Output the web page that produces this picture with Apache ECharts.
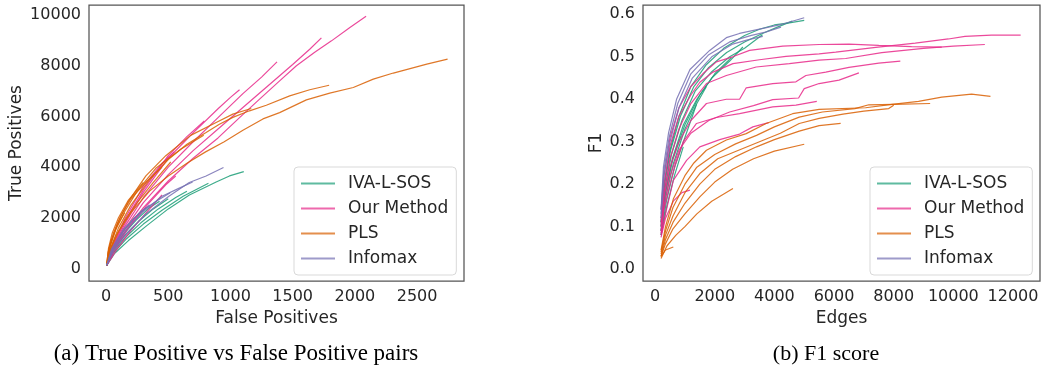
<!DOCTYPE html>
<html>
<head>
<meta charset="utf-8">
<script src="https://cdn.jsdelivr.net/npm/echarts@6/dist/echarts.min.js"></script>
<style>
html, body { margin: 0; padding: 0; background: #fff; }
#chart { width: 1045px; height: 375px; }
</style>
</head>
<body>
<div id="chart"></div>
<script>
// method names and colours (Dark2)
var methods = ['IVA-L-SOS', 'Our Method', 'PLS', 'Infomax'];
var colors = ['#1b9e77', '#e7298a', '#d95f02', '#7570b3'];

// tick labels
var tpTicksX = [0, 500, 1000, 1500, 2000, 2500];
var tpTicksY = [0, 2000, 4000, 6000, 8000, 10000];
var f1TicksX = [0, 2000, 4000, 6000, 8000, 10000, 12000];
var f1TicksY = [0, 0.1, 0.2, 0.3, 0.4, 0.5, 0.6];

// (a) true positives vs false positives, one list of runs per method: [fp, tp]
var ivaTP = [
    [[5,120],[70,600],[180,1100],[330,1700],[500,2350],[670,2900],[885,3410],[992,3650],[1107,3820]],
    [[5,120],[60,620],[160,1150],[300,1750],[450,2300],[620,2850],[823,3360]],
    [[5,120],[55,640],[150,1200],[280,1800],[420,2350],[560,2800],[650,3050]],
    [[5,120],[50,660],[140,1250],[260,1850],[380,2350],[500,2750]],
    [[5,120],[45,680],[130,1300],[240,1900],[350,2400],[430,2650]],
    [[5,120],[40,700],[120,1350],[220,1950],[320,2400]]
];
var ourTP = [
    [[5,120],[60,700],[150,1450],[300,2400],[500,3450],[700,4350],[900,5150],[1073,5950],[1234,6680],[1395,7400],[1530,8000],[1677,8530],[1812,8980],[1960,9510],[2090,9950]],
    [[5,120],[60,750],[150,1550],[300,2600],[500,3700],[700,4650],[900,5500],[1100,6350],[1300,7200],[1500,8050],[1637,8650],[1731,9100]],
    [[5,120],[60,800],[150,1650],[300,2800],[500,4000],[700,5000],[900,5950],[1100,6900],[1250,7550],[1374,8150]],
    [[5,120],[60,850],[150,1750],[300,3000],[500,4350],[700,5350],[900,6300],[1000,6750],[1073,7050]],
    [[5,120],[50,800],[150,1850],[300,3100],[500,4450],[650,5200],[790,5820]],
    [[5,120],[50,850],[150,1950],[300,3250],[450,4150],[548,4600]],
    [[5,120],[70,750],[180,1600],[330,2500],[480,3300],[560,3650]],
    [[5,120],[80,700],[200,1500],[350,2350],[450,2900]]
];
var plsTP = [
    [[5,120],[40,800],[100,1450],[200,2200],[350,3050],[500,3650],[650,4150],[800,4600],[950,5000],[1100,5450],[1261,5900],[1395,6150],[1610,6650],[1798,6920],[1987,7140],[2148,7470],[2309,7710],[2578,8060],[2745,8260]],
    [[5,120],[40,850],[100,1600],[200,2500],[350,3500],[500,4300],[650,4900],[804,5360],[911,5690],[1019,5960],[1153,6220],[1288,6440],[1476,6810],[1637,7050],[1793,7230]],
    [[5,120],[35,900],[90,1750],[180,2650],[320,3650],[480,4450],[680,5250],[885,5760],[1019,6090],[1167,6310]],
    [[5,120],[30,850],[80,1550],[150,2250],[250,3050],[400,3950],[600,4700],[785,5260]],
    [[5,120],[20,700],[60,1400],[120,2100],[200,2750],[320,3400],[450,4000]],
    [[5,120],[20,800],[50,1400],[100,2000],[180,2700],[300,3400]],
    [[5,120],[30,700],[80,1300],[150,1900],[250,2600],[380,3400],[520,4200]],
    [[5,120],[15,600],[40,1100],[90,1700],[150,2200]]
];
var infomaxTP = [
    [[5,120],[60,700],[170,1400],[320,2150],[508,2860],[669,3390],[804,3650],[944,3980]],
    [[5,120],[55,730],[160,1500],[300,2250],[450,2850],[580,3150],[696,3410]],
    [[5,120],[50,760],[150,1550],[280,2250],[420,2700],[516,2990]],
    [[5,120],[45,780],[140,1550],[260,2150],[350,2500]]
];

// (b) F1 vs number of edges: [edges, f1]
var ivaF1 = [
    [[200,0.11],[300,0.2],[500,0.28],[800,0.36],[1200,0.43],[1700,0.48],[2300,0.52],[3000,0.55],[3500,0.565],[4000,0.575],[4500,0.58],[5000,0.586]],
    [[200,0.11],[320,0.2],[520,0.28],[850,0.36],[1300,0.43],[1800,0.475],[2400,0.51],[3000,0.535],[3600,0.555],[4100,0.57],[4600,0.584]],
    [[200,0.10],[330,0.19],[550,0.27],[900,0.35],[1350,0.42],[1900,0.465],[2500,0.5],[3000,0.52],[3600,0.552]],
    [[200,0.10],[340,0.18],[580,0.26],[950,0.34],[1400,0.40],[1900,0.45],[2500,0.49],[2944,0.523]],
    [[200,0.09],[350,0.18],[600,0.26],[1000,0.34],[1500,0.41],[2000,0.46],[2556,0.498]],
    [[200,0.09],[360,0.17],[620,0.25],[1000,0.33],[1400,0.39],[1722,0.43]],
    [[200,0.08],[380,0.16],[650,0.24],[1000,0.31],[1389,0.388]],
    [[200,0.08],[400,0.15],[650,0.22],[944,0.288]]
];
var ourF1 = [
    [[200,0.14],[300,0.22],[500,0.31],[800,0.38],[1200,0.43],[1600,0.46],[2056,0.488],[2600,0.50],[3167,0.515],[4278,0.525],[5500,0.529],[6500,0.53],[7500,0.527],[8600,0.524],[9611,0.523]],
    [[200,0.12],[300,0.2],[500,0.29],[800,0.36],[1200,0.41],[1500,0.44],[1944,0.464],[2611,0.484],[3500,0.493],[4389,0.501],[5500,0.507],[6056,0.511],[7400,0.522],[8722,0.532],[9833,0.542],[10389,0.548],[11278,0.551],[12256,0.551]],
    [[200,0.11],[300,0.18],[500,0.26],[800,0.33],[1200,0.39],[1722,0.437],[2389,0.456],[3389,0.476],[4500,0.484],[5500,0.492],[6389,0.496],[7600,0.51],[9000,0.52],[10000,0.525],[11056,0.529]],
    [[200,0.10],[300,0.17],[500,0.24],[800,0.30],[1200,0.35],[1722,0.39],[2389,0.40],[2833,0.40],[3056,0.427],[3944,0.437],[4722,0.441],[5056,0.456],[5722,0.464],[6500,0.475],[7500,0.485],[8222,0.49]],
    [[200,0.09],[300,0.15],[500,0.22],[800,0.28],[1200,0.32],[1800,0.35],[2500,0.37],[3300,0.385],[3944,0.399],[4811,0.403],[5000,0.425],[5500,0.437],[6167,0.445],[6833,0.462]],
    [[200,0.085],[300,0.14],[500,0.2],[700,0.25],[944,0.30],[1389,0.343],[2056,0.357],[2833,0.366],[3944,0.382],[4722,0.386],[5422,0.395]],
    [[200,0.08],[350,0.13],[611,0.209],[1056,0.256],[1500,0.288],[2167,0.305],[2833,0.318],[3278,0.335],[3811,0.345]],
    [[200,0.075],[350,0.12],[611,0.16],[900,0.18],[1167,0.186]]
];
var plsF1 = [
    [[200,0.045],[350,0.10],[611,0.165],[1000,0.22],[1300,0.25],[1722,0.28],[2389,0.304],[3056,0.319],[3722,0.343],[4611,0.366],[5500,0.376],[7056,0.38],[7944,0.388],[8833,0.395],[9611,0.405],[10611,0.412],[11244,0.407]],
    [[200,0.04],[350,0.09],[600,0.145],[1000,0.20],[1400,0.24],[2000,0.27],[2700,0.295],[3400,0.315],[4000,0.335],[4833,0.358],[5611,0.37],[6700,0.378],[7167,0.387],[8000,0.388],[9222,0.39]],
    [[200,0.035],[350,0.08],[600,0.125],[1000,0.18],[1500,0.225],[2100,0.26],[2800,0.28],[3500,0.30],[4200,0.32],[4833,0.343],[5500,0.355],[6300,0.365],[7000,0.372],[7833,0.378],[8000,0.386]],
    [[200,0.03],[350,0.07],[600,0.11],[1000,0.155],[1500,0.2],[2000,0.235],[2700,0.265],[3400,0.288],[4000,0.305],[4833,0.325],[5500,0.338],[6222,0.343]],
    [[200,0.03],[350,0.06],[600,0.095],[1000,0.13],[1500,0.17],[2000,0.205],[2600,0.235],[3300,0.26],[4000,0.278],[5000,0.294]],
    [[200,0.025],[400,0.055],[700,0.08],[1000,0.10],[1400,0.13],[1900,0.16],[2611,0.19]],
    [[200,0.03],[350,0.045],[611,0.052]]
];
var infomaxF1 = [
    [[200,0.14],[280,0.24],[450,0.32],[720,0.40],[1170,0.47],[1830,0.515],[2390,0.545],[2830,0.555],[3500,0.565],[4170,0.575],[5000,0.592]],
    [[200,0.13],[290,0.23],[470,0.31],[760,0.39],[1200,0.46],[1800,0.505],[2500,0.535],[3200,0.55],[3700,0.558],[4222,0.57]],
    [[200,0.12],[300,0.22],[500,0.30],[800,0.38],[1250,0.45],[1900,0.50],[2600,0.53],[3100,0.54],[3611,0.548]]
];

var textColor = '#262626';
var font = 'DejaVu Sans';

function makeAxis(grid, min, max, ticks, name, gap, fmt) {
    return {
        type: 'value', gridIndex: grid, min: min, max: max,
        axisLine: { show: false }, axisTick: { show: false }, splitLine: { show: false },
        axisLabel: {
            customValues: ticks, margin: 8, color: textColor, fontFamily: font, fontSize: 16,
            formatter: fmt || function(v) { return String(v); }
        },
        name: name, nameLocation: 'middle', nameGap: gap,
        nameTextStyle: { color: textColor, fontFamily: font, fontSize: 17 }
    };
}

function addRuns(list, runs, idx, grid) {
    runs.forEach(function(run) {
        list.push({
            type: 'line', name: methods[idx], xAxisIndex: grid, yAxisIndex: grid,
            data: run, symbol: 'none', silent: true,
            itemStyle: { color: colors[idx] },
            lineStyle: { color: colors[idx], width: 1.2, opacity: 0.85 }
        });
    });
}

var series = [];
addRuns(series, ivaTP, 0, 0);
addRuns(series, ourTP, 1, 0);
addRuns(series, plsTP, 2, 0);
addRuns(series, infomaxTP, 3, 0);
addRuns(series, ivaF1, 0, 1);
addRuns(series, ourF1, 1, 1);
addRuns(series, plsF1, 2, 1);
addRuns(series, infomaxF1, 3, 1);

function makeLegend(left) {
    return {
        left: left, top: 167, orient: 'vertical', data: methods, selectedMode: false,
        icon: 'rect', itemWidth: 34, itemHeight: 2, itemGap: 8, padding: [8, 8, 8, 7],
        backgroundColor: 'rgba(255,255,255,0.8)', borderColor: '#d9d9d9', borderWidth: 1, borderRadius: 4,
        itemStyle: { opacity: 0.7 },
        textStyle: { color: textColor, fontFamily: font, fontSize: 17, lineHeight: 17, padding: [0, 0, 0, 8] }
    };
}

var chart = echarts.init(document.getElementById('chart'));
chart.setOption({
    animation: false,
    backgroundColor: '#fff',
    grid: [
        { left: 89, top: 5, width: 375, height: 276, show: true, borderColor: '#555', borderWidth: 1.25 },
        { left: 643, top: 5, width: 397, height: 276, show: true, borderColor: '#555', borderWidth: 1.25 }
    ],
    xAxis: [
        makeAxis(0, -137, 2877, tpTicksX, 'False Positives', 27),
        makeAxis(1, -405, 12905, f1TicksX, 'Edges', 27)
    ],
    yAxis: [
        makeAxis(0, -495, 10395, tpTicksY, 'True Positives', 64),
        makeAxis(1, -0.028, 0.622, f1TicksY, 'F1', 38, function(v) { return v.toFixed(1); })
    ],
    legend: [makeLegend(294), makeLegend(870)],
    graphic: [
        { type: 'text', x: 236, y: 342, style: { text: '(a) True Positive vs False Positive pairs', font: '23px "Liberation Serif"', fill: '#000', textAlign: 'center' } },
        { type: 'text', x: 826, y: 343, style: { text: '(b) F1 score', font: '22px "Liberation Serif"', fill: '#000', textAlign: 'center' } }
    ],
    series: series
});
</script>
</body>
</html>
